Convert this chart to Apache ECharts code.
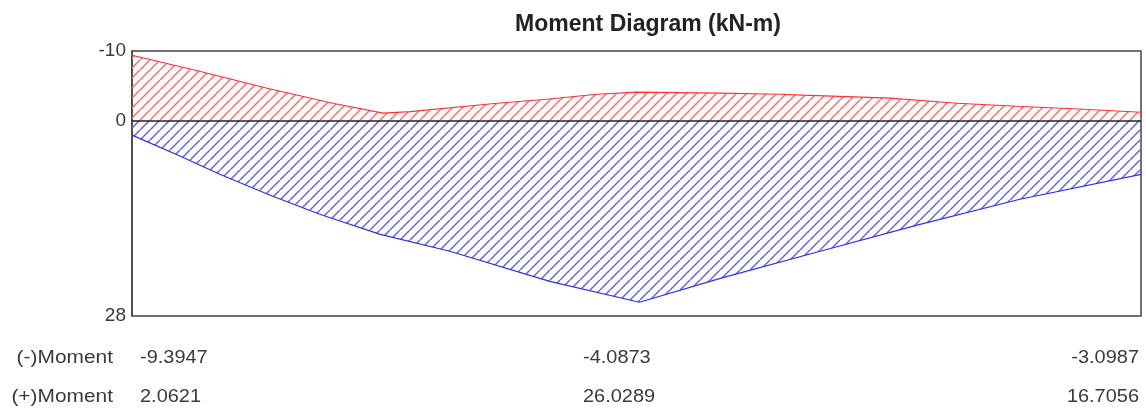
<!DOCTYPE html>
<html>
<head>
<meta charset="utf-8">
<script src="https://cdn.jsdelivr.net/npm/echarts@6/dist/echarts.min.js"></script>
<style>
html,body{margin:0;padding:0;background:#fff;}
#chart{width:1146px;height:419px;}
</style>
</head>
<body>
<div id="chart"></div>
<script>
// ---- data ----
var titleText = 'Moment Diagram (kN-m)';
// positions along beam (0..10)
var negX = [0, 0.67, 1.34, 1.99, 2.49, 2.76, 3.62, 4.11, 4.61, 5.00, 5.83, 6.42, 6.65, 7.51, 8.18, 8.77, 9.43, 10];
var negV = [-9.39, -7.10, -4.66, -2.51, -1.08, -1.30, -2.51, -3.08, -3.80, -4.09, -3.95, -3.80, -3.66, -3.23, -2.51, -2.08, -1.65, -1.22];
var posX = [0, 0.48, 0.87, 1.37, 1.86, 2.46, 3.15, 4.14, 5.03, 5.83, 6.82, 7.81, 8.80, 10];
var posV = [2.06, 5.09, 7.68, 10.69, 13.41, 16.29, 18.72, 23.03, 26.03, 22.6, 18.72, 14.85, 11.26, 7.68];
var yTickLabels = [-10, 0, 28];
var rowLabels = ['(-)Moment', '(+)Moment'];
var negMoments = ['-9.3947', '-4.0873', '-3.0987'];
var posMoments = ['2.0621', '26.0289', '16.7056'];

function hatch(color) {
  var w = 10, h = 10;
  var c = document.createElement('canvas');
  c.width = w; c.height = h;
  var ctx = c.getContext('2d');
  ctx.strokeStyle = color;
  ctx.lineWidth = 1.5;
  for (var k = -1; k <= 1; k++) {
    ctx.beginPath();
    ctx.moveTo(k * w, h);
    ctx.lineTo(k * w + w, 0);
    ctx.stroke();
  }
  return { image: c, repeat: 'repeat' };
}

function pairs(xs, vs) { return xs.map(function (x, i) { return [x, vs[i]]; }); }

var chart = echarts.init(document.getElementById('chart'), null, { renderer: 'canvas', devicePixelRatio: 1 });

var textStyleBase = { fontFamily: 'Liberation Sans, Arial, sans-serif', fontSize: 19, fill: '#3a3a3a' };
var cols = [{ x: 140, align: 'left' }, { x: 583, align: 'left' }, { x: 1139, align: 'right' }];
var graphics = [];
rowLabels.forEach(function (lab, r) {
  var y = r === 0 ? 358 : 397;
  graphics.push({ type: 'text', x: 113, y: y, scaleX: 1.1, style: Object.assign({}, textStyleBase, { text: lab, textAlign: 'right', textVerticalAlign: 'middle' }) });
  var vals = r === 0 ? negMoments : posMoments;
  vals.forEach(function (v, i) {
    graphics.push({ type: 'text', x: cols[i].x, y: y, scaleX: 1.05, style: Object.assign({}, textStyleBase, { text: v, textAlign: cols[i].align, textVerticalAlign: 'middle' }) });
  });
});

chart.setOption({
  animation: false,
  backgroundColor: '#fff',
  title: {
    text: titleText, left: 643, top: 8, textAlign: 'center',
    textStyle: { fontFamily: 'Liberation Sans, Arial, sans-serif', fontSize: 23, fontWeight: 'bold', color: '#222' }
  },
  grid: { left: 132, right: 5, top: 51, bottom: 103, show: true, borderColor: '#444', borderWidth: 1.5, backgroundColor: 'transparent' },
  xAxis: { type: 'value', min: 0, max: 10, show: false },
  yAxis: {
    type: 'value', inverse: true, min: -10, max: 28, interval: 10,
    axisLine: { show: true, lineStyle: { color: '#444', width: 1.5 } },
    axisTick: { show: false },
    splitLine: { show: false },
    axisLabel: {
      color: '#3a3a3a', fontSize: 19, fontFamily: 'Liberation Sans, Arial, sans-serif', margin: 6,
      showMinLabel: true, showMaxLabel: true,
      formatter: function (v) { return yTickLabels.indexOf(v) >= 0 ? String(v) : ''; }
    }
  },
  series: [
    {
      type: 'line', data: pairs(posX, posV), symbol: 'none', silent: true,
      lineStyle: { color: '#2f2fe8', width: 1.2 },
      areaStyle: { color: hatch('#6464e4'), opacity: 1, origin: 0 },
      z: 2
    },
    {
      type: 'line', data: pairs(negX, negV), symbol: 'none', silent: true,
      lineStyle: { color: '#ff3030', width: 1.2 },
      areaStyle: { color: hatch('#ff6a6a'), opacity: 1, origin: 0 },
      markLine: { silent: true, symbol: 'none', label: { show: false }, lineStyle: { color: '#222', type: 'solid', width: 1.5 }, data: [{ yAxis: 0 }] },
      z: 3
    }
  ],
  graphic: graphics
});
</script>
</body>
</html>
